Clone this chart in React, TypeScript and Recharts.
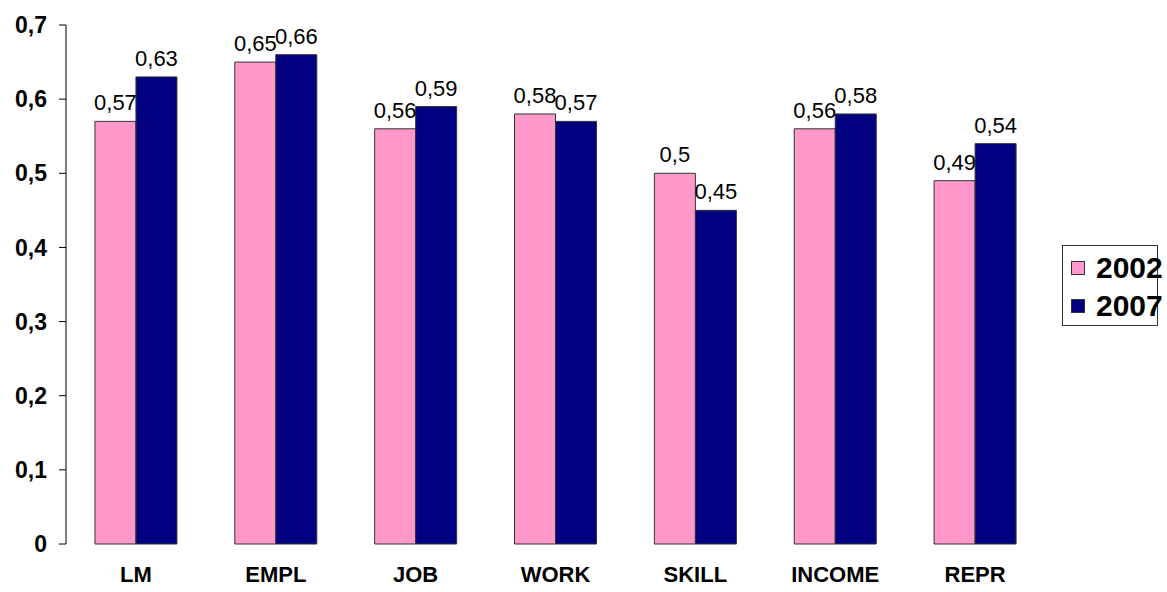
import { BarChart, Bar, XAxis, YAxis, LabelList } from "recharts";

const categories = ["LM", "EMPL", "JOB", "WORK", "SKILL", "INCOME", "REPR"];
const values2002 = [0.57, 0.65, 0.56, 0.58, 0.5, 0.56, 0.49];
const values2007 = [0.63, 0.66, 0.59, 0.57, 0.45, 0.58, 0.54];
const yTicks = [0, 0.1, 0.2, 0.3, 0.4, 0.5, 0.6, 0.7];

const series = [
  { key: "y2002", name: "2002", color: "#FF99CC" },
  { key: "y2007", name: "2007", color: "#000080" },
];

const data = categories.map((c, i) => ({
  name: c,
  y2002: values2002[i],
  y2007: values2007[i],
}));

const boundaryTicks = categories.map((_, i) => i).concat(categories.length);

const font = '"Liberation Sans", Arial, sans-serif';
const comma = (v: number | string) => String(v).replace(".", ",");

export default function App() {
  return (
    <div style={{ position: "absolute", left: 0, top: 0, width: 1167, height: 592, background: "#fff", fontFamily: font }}>
      <BarChart
        width={1167}
        height={592}
        data={data}
        margin={{ top: 25, right: 122, bottom: 0, left: 0 }}
        barCategoryGap="20.7%"
        barGap={0}
      >
        <XAxis
          xAxisId="grid"
          type="number"
          domain={[0, categories.length]}
          ticks={boundaryTicks}
          tick={false}
          tickSize={7}
          height={0}
          stroke="#000"
          allowDataOverflow
        />
        <XAxis
          dataKey="name"
          height={48}
          axisLine={false}
          tickLine={false}
          tickSize={0}
          tickMargin={22}
          interval={0}
          tick={{ fontSize: 22, fontWeight: "bold", fill: "#000", fontFamily: font }}
        />
        <YAxis
          width={66}
          domain={[0, 0.7]}
          ticks={yTicks}
          tickSize={7}
          tickMargin={12}
          stroke="#000"
          tickFormatter={comma}
          tick={{ fontSize: 23, fontWeight: "bold", fill: "#000", fontFamily: font }}
        />
        {series.map(s => (
          <Bar
            key={s.key}
            dataKey={s.key}
            name={s.name}
            fill={s.color}
            stroke="#333"
            strokeWidth={1}
            isAnimationActive={false}
          >
            <LabelList
              dataKey={s.key}
              position="top"
              offset={11}
              formatter={comma}
              style={{ fontSize: 22, fill: "#000", fontFamily: font }}
            />
          </Bar>
        ))}
      </BarChart>
      <div
        style={{
          position: "absolute",
          left: 1062,
          top: 245,
          width: 96,
          height: 81,
          border: "1px solid #333",
          boxSizing: "border-box",
          overflow: "visible",
        }}
      >
        {series.map((s, i) => (
          <div
            key={s.key}
            style={{
              position: "absolute",
              left: 8,
              top: 6 + i * 38,
              display: "flex",
              alignItems: "center",
              whiteSpace: "nowrap",
              fontSize: 30,
              fontWeight: "bold",
              lineHeight: "32px",
            }}
          >
            <span
              style={{
                display: "inline-block",
                width: 12,
                height: 12,
                background: s.color,
                border: "1px solid #333",
                marginRight: 11,
              }}
            />
            {s.name}
          </div>
        ))}
      </div>
    </div>
  );
}
